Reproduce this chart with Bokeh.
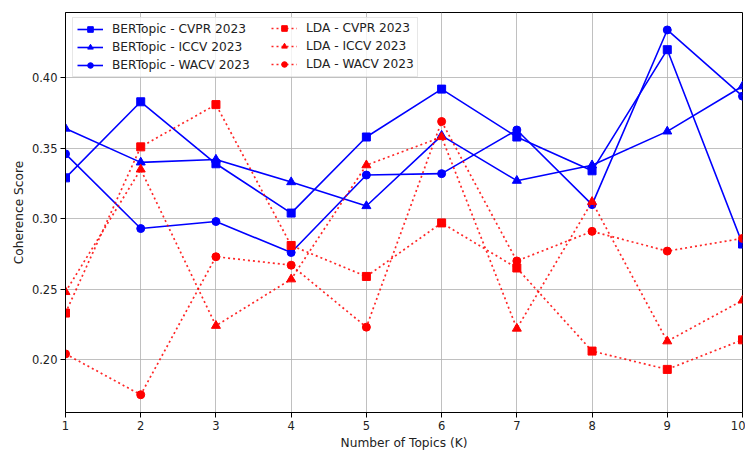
from bokeh.plotting import figure
from bokeh.models import Legend, LegendItem, FixedTicker, Range1d, PrintfTickFormatter
from bokeh.embed import file_html
from bokeh.resources import INLINE

topics = [1, 2, 3, 4, 5, 6, 7, 8, 9, 10]

bertopic_cvpr = [0.329, 0.383, 0.339, 0.304, 0.358, 0.392, 0.358, 0.334, 0.420, 0.282]
bertopic_iccv = [0.364, 0.340, 0.342, 0.326, 0.309, 0.359, 0.327, 0.338, 0.362, 0.394]
bertopic_wacv = [0.346, 0.293, 0.298, 0.276, 0.331, 0.332, 0.363, 0.310, 0.434, 0.387]
lda_cvpr = [0.233, 0.351, 0.381, 0.281, 0.259, 0.297, 0.265, 0.206, 0.193, 0.214]
lda_iccv = [0.248, 0.335, 0.224, 0.257, 0.338, 0.358, 0.222, 0.312, 0.213, 0.242]
lda_wacv = [0.204, 0.175, 0.273, 0.267, 0.223, 0.369, 0.270, 0.291, 0.277, 0.286]

x_ticks = [1, 2, 3, 4, 5, 6, 7, 8, 9, 10]
y_ticks = [0.20, 0.25, 0.30, 0.35, 0.40]

series = [
    ("BERTopic - CVPR 2023", bertopic_cvpr, "blue", "solid", "square", 8),
    ("BERTopic - ICCV 2023", bertopic_iccv, "blue", "solid", "triangle", 9),
    ("BERTopic - WACV 2023", bertopic_wacv, "blue", "solid", "circle", 8),
    ("LDA - CVPR 2023", lda_cvpr, "red", "dotted", "square", 8),
    ("LDA - ICCV 2023", lda_iccv, "red", "dotted", "triangle", 9),
    ("LDA - WACV 2023", lda_wacv, "red", "dotted", "circle", 8),
]

FONT = "DejaVu Sans"

p = figure(width=745, height=452, output_backend="svg", toolbar_location=None,
           x_range=Range1d(1, 10), y_range=Range1d(0.1624, 0.4464),
           min_border_left=65, min_border_right=3, min_border_top=12, min_border_bottom=36)

items = []
for name, ys, color, style, marker, sz in series:
    if style == "solid":
        r1 = p.line(topics, ys, line_color=color, line_width=1.6)
    else:
        r1 = p.line(topics, ys, line_color=color, line_width=1.7, line_dash="2 3", line_alpha=0.85)
    r2 = p.scatter(topics, ys, marker=marker, size=sz, fill_color=color, line_color=color)
    items.append(LegendItem(label=name, renderers=[r1, r2]))

common = dict(label_text_font=FONT, label_text_font_size="12.2px", label_text_color="#222222",
              glyph_width=26, glyph_height=14, spacing=4, padding=4, margin=0,
              label_standoff=9, label_height=14, orientation="vertical")

legend_a = Legend(items=items[:3], location=(7, 335), label_width=301,
                  border_line_color="#d0d0d0", border_line_width=1,
                  background_fill_alpha=0.8, **common)
legend_b = Legend(items=items[3:], location=(206, 341),
                  border_line_color=None, background_fill_alpha=0.0, **common)
p.add_layout(legend_a, "center")
p.add_layout(legend_b, "center")

p.xaxis.ticker = FixedTicker(ticks=x_ticks)
p.yaxis.ticker = FixedTicker(ticks=y_ticks)
p.yaxis.formatter = PrintfTickFormatter(format="%.2f")
p.xaxis.axis_label = "Number of Topics (K)"
p.yaxis.axis_label = "Coherence Score"

for ax in (p.xaxis, p.yaxis):
    ax.axis_label_text_font = FONT
    ax.axis_label_text_font_size = "12.2px"
    ax.axis_label_text_font_style = "normal"
    ax.axis_label_text_color = "#222222"
    ax.major_label_text_font = FONT
    ax.major_label_text_font_size = "11.5px"
    ax.major_label_text_color = "#222222"
    ax.major_tick_out = 5
    ax.major_tick_in = 0
    ax.minor_tick_out = 0
    ax.minor_tick_in = 0
    ax.major_tick_line_color = "black"
    ax.axis_line_color = "black"
    ax.major_label_standoff = 3
    ax.axis_label_standoff = 3

p.xgrid.ticker = FixedTicker(ticks=x_ticks)
p.ygrid.ticker = FixedTicker(ticks=y_ticks)
p.grid.grid_line_color = "#b0b0b0"
p.grid.grid_line_width = 1
p.grid.grid_line_alpha = 0.8

p.outline_line_color = "black"
p.outline_line_width = 1
p.outline_line_alpha = 1
p.background_fill_color = "white"
p.border_fill_color = "white"

open("out.html", "w").write(file_html(p, INLINE))
